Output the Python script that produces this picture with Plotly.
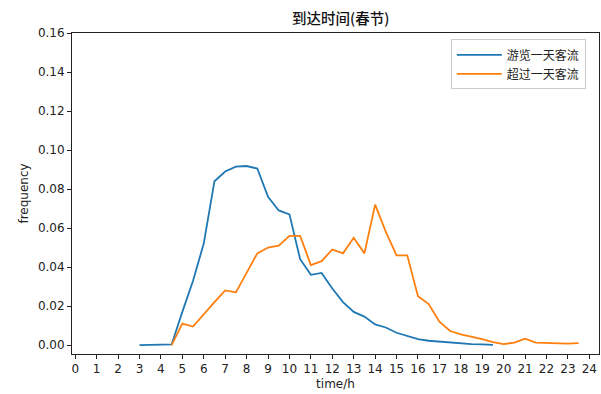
import plotly.graph_objects as go

# Arrival-time distribution during the Spring Festival (half-hour bins)
hours_day = [3, 3.5, 4, 4.5, 5, 5.5, 6, 6.5, 7, 7.5, 8, 8.5, 9, 9.5, 10, 10.5, 11, 11.5,
             12, 12.5, 13, 13.5, 14, 14.5, 15, 15.5, 16, 16.5, 17, 17.5, 18, 18.5, 19, 19.5]
freq_day = [0.0, 0.0, 0.0, 0.0003, 0.017, 0.033, 0.052, 0.084, 0.089, 0.0915, 0.0918, 0.0905,
            0.076, 0.069, 0.067, 0.044, 0.036, 0.037, 0.029, 0.022, 0.017, 0.0146, 0.0106,
            0.009, 0.0063, 0.0045, 0.003, 0.0022, 0.0017, 0.0012, 0.0008, 0.0005, 0.0003, 0.0001]

hours_multi = [4.5, 5, 5.5, 6, 6.5, 7, 7.5, 8, 8.5, 9, 9.5, 10, 10.5, 11, 11.5, 12, 12.5, 13,
               13.5, 14, 14.5, 15, 15.5, 16, 16.5, 17, 17.5, 18, 18.5, 19, 19.5, 20, 20.5, 21,
               21.5, 22, 22.5, 23, 23.5]
freq_multi = [0.0, 0.011, 0.0095, 0.016, 0.022, 0.028, 0.027, 0.037, 0.047, 0.050, 0.051, 0.056,
              0.056, 0.041, 0.043, 0.049, 0.047, 0.055, 0.047, 0.072, 0.058, 0.046, 0.046, 0.025,
              0.021, 0.012, 0.0072, 0.0055, 0.0043, 0.003, 0.0015, 0.0005, 0.0012, 0.0033,
              0.0012, 0.0010, 0.0008, 0.0007, 0.0010]

x_ticks = list(range(0, 25))
y_ticks = [0.00, 0.02, 0.04, 0.06, 0.08, 0.10, 0.12, 0.14, 0.16]

FONT = "DejaVu Sans, Noto Sans CJK SC, sans-serif"
CJK = "Noto Sans CJK SC, DejaVu Sans, sans-serif"

fig = go.Figure()
fig.add_trace(go.Scatter(x=hours_day, y=freq_day, mode="lines", name="游览一天客流",
                         line=dict(color="#1f77b4", width=1.8)))
fig.add_trace(go.Scatter(x=hours_multi, y=freq_multi, mode="lines", name="超过一天客流",
                         line=dict(color="#ff7f0e", width=1.8)))

axis_common = dict(showgrid=False, zeroline=False, showline=True, linecolor="#222",
                   linewidth=1, mirror=True, ticks="outside", ticklen=4, tickwidth=1,
                   tickcolor="#222", tickfont=dict(family=FONT, size=12, color="#222"))

fig.update_layout(
    width=601, height=394,
    margin=dict(l=72, r=2, t=33, b=40),
    paper_bgcolor="white", plot_bgcolor="white",
    title=dict(text="到达时间(春节)", x=0.567, xanchor="center", y=0.952, yanchor="middle",
               font=dict(family=CJK, size=14.5, color="#111", weight=500)),
    xaxis=dict(range=[-0.15, 24.45], tickmode="array", tickvals=x_ticks,
               ticktext=[str(t) for t in x_ticks],
               title=dict(text="time/h", standoff=4, font=dict(family=FONT, size=12, color="#222")),
               **axis_common),
    yaxis=dict(range=[-0.0046, 0.16], tickmode="array", tickvals=y_ticks,
               ticktext=[f"{v:.2f}" for v in y_ticks],
               title=dict(text="frequency", standoff=6, font=dict(family=FONT, size=12, color="#222")),
               **axis_common),
    legend=dict(x=0.975, y=0.98, xanchor="right", yanchor="top", itemwidth=45,
                bgcolor="rgba(255,255,255,0.9)", bordercolor="#cccccc", borderwidth=1,
                font=dict(family=CJK, size=12, color="#222"), tracegroupgap=0),
    showlegend=True,
)

fig.write_html("out.html")
